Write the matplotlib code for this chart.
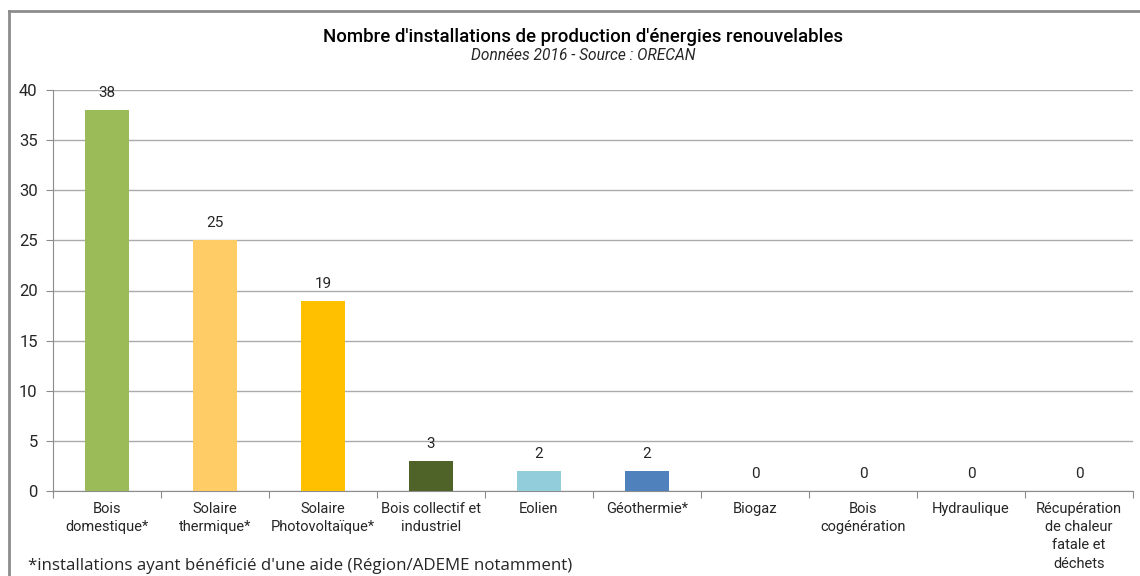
import matplotlib
matplotlib.use('Agg')
import matplotlib.pyplot as plt
from matplotlib.lines import Line2D

categories = ["Bois\ndomestique*", "Solaire\nthermique*", "Solaire\nPhotovoltaïque*",
              "Bois collectif et\nindustriel", "Eolien", "Géothermie*", "Biogaz",
              "Bois\ncogénération", "Hydraulique",
              "Récupération\nde chaleur\nfatale et\ndéchets"]
values = [38, 25, 19, 3, 2, 2, 0, 0, 0, 0]
colors = ["#9BBB59", "#FFCC66", "#FFC000", "#4F6228", "#92CDDC", "#4F81BD",
          "#4F81BD", "#4F81BD", "#4F81BD", "#4F81BD"]
yticks = [0, 5, 10, 15, 20, 25, 30, 35, 40]

font = 'Roboto'
txt = '#262626'

fig = plt.figure(figsize=(11.4, 5.76), dpi=100)
ax = fig.add_axes([53/1140, 1-491/576, 1080/1140, 401/576])

x = range(len(categories))
ax.bar(x, values, width=0.4, color=colors, zorder=3)
for i, v in enumerate(values):
    ax.text(i, v + 1.0, str(v), ha='center', va='bottom', fontsize=11,
            family=font, color=txt)

ax.set_xlim(-0.5, len(categories) - 0.5)
ax.set_ylim(0, 40)
ax.set_yticks(yticks)
ax.set_yticklabels([str(t) for t in yticks], family=font, fontsize=12, color=txt)
ax.set_xticks([i - 0.5 for i in range(len(categories) + 1)], minor=False)
ax.set_xticklabels([])
ax.set_xticks(list(x), minor=True)
ax.set_xticklabels(categories, minor=True, family=font, fontsize=10.5, color=txt,
                   linespacing=1.38)
ax.tick_params(axis='x', which='minor', length=0, pad=8)
ax.tick_params(axis='x', which='major', length=5, color='#8c8c8c', direction='out')
ax.tick_params(axis='y', length=5, color='#8c8c8c', pad=6)
ax.grid(axis='y', color='#ababab', linewidth=1, zorder=0)
for s in ['top', 'right']:
    ax.spines[s].set_visible(False)
ax.spines['left'].set_color('#8c8c8c')
ax.spines['bottom'].set_color('#8c8c8c')

fig.text(583/1140, 1-37/576, "Nombre d'installations de production d'énergies renouvelables",
         ha='center', va='center', fontsize=13.4, family=font, weight='medium', color='black')
fig.text(583/1140, 1-56/576, "Données 2016 - Source : ORECAN", ha='center', va='center',
         fontsize=11.2, family=font, style='italic', color=txt)
fig.text(28/1140, 1-566/576, "*installations ayant bénéficié d'une aide (Région/ADEME notamment)",
         ha='left', va='center', fontsize=12.2, family='Open Sans', color=txt)

# chart frame
fig.add_artist(Line2D([9/1140, 9/1140], [0, 1-11/576], transform=fig.transFigure,
                      color='#8c8c8c', linewidth=2))
fig.add_artist(Line2D([9/1140, 1], [1-11/576, 1-11/576], transform=fig.transFigure,
                      color='#8c8c8c', linewidth=2))

fig.savefig('out.png', dpi=100)
